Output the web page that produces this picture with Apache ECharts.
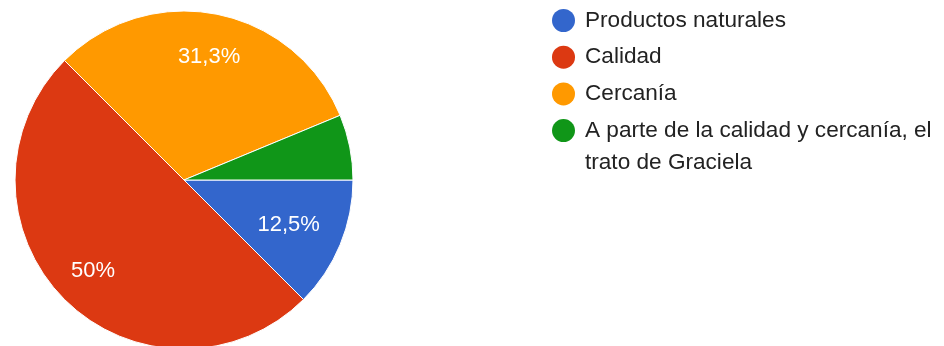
<!DOCTYPE html>
<html>
<head>
<meta charset="utf-8">
<script src="https://cdn.jsdelivr.net/npm/echarts@6/dist/echarts.min.js"></script>
<style>
  html, body { margin: 0; padding: 0; background: #ffffff; }
  #chart { width: 944px; height: 346px; }
</style>
</head>
<body>
<div id="chart"></div>
<script>
// Answers to the survey question (number of responses per option)
const categories = [
  'Productos naturales',
  'Calidad',
  'Cercanía',
  'A parte de la calidad y cercanía, el trato de Graciela'
];
const responses = [2, 8, 5, 1];
const sliceColors = ['#3366cc', '#dc3912', '#ff9900', '#109618'];

// Long legend entries wrap onto a second line
const legendFirstLine = {
  'A parte de la calidad y cercanía, el trato de Graciela': 'A parte de la calidad y cercanía, el'
};
const legendSecondLine = 'trato de Graciela';

const FONT = 'Arial, "Liberation Sans", sans-serif';
const LEGEND_FONT_SIZE = 22.6;
const total = responses.reduce((a, b) => a + b, 0);

function pctText(value) {
  const p = value / total * 100;
  let s = p.toFixed(1);
  if (s.endsWith('.0')) s = s.slice(0, -2);
  return s.replace('.', ',') + '%';
}

const pieData = categories.map((name, i) => ({
  name: name,
  value: responses[i],
  itemStyle: { color: sliceColors[i] }
}));

const chart = echarts.init(document.getElementById('chart'), null, { renderer: 'canvas' });

chart.setOption({
  animation: false,
  backgroundColor: '#ffffff',
  legend: {
    orient: 'vertical',
    left: 552,
    top: 9,
    padding: 0,
    icon: 'circle',
    itemWidth: 23,
    itemHeight: 23,
    itemGap: 13.7,
    selectedMode: false,
    itemStyle: { borderWidth: 0 },
    textStyle: {
      fontFamily: FONT,
      fontSize: LEGEND_FONT_SIZE,
      color: '#222222',
      padding: [0, 0, 0, 5]
    },
    formatter: name => legendFirstLine[name] || name,
    data: categories
  },
  graphic: [{
    type: 'text',
    left: 585,
    top: 151,
    style: {
      text: legendSecondLine,
      font: LEGEND_FONT_SIZE + 'px ' + FONT,
      fill: '#222222'
    }
  }],
  series: [
    {
      type: 'pie',
      center: [184, 180],
      radius: [0, 169],
      startAngle: 0,
      clockwise: true,
      silent: true,
      itemStyle: { borderColor: '#ffffff', borderWidth: 1 },
      label: { show: false },
      labelLine: { show: false },
      data: pieData
    },
    {
      // transparent ring used only to place the percentage labels
      type: 'pie',
      center: [184, 180],
      radius: [82, 169],
      startAngle: 0,
      clockwise: true,
      silent: true,
      itemStyle: { color: 'rgba(0,0,0,0)' },
      label: {
        show: true,
        position: 'inside',
        color: '#ffffff',
        fontFamily: FONT,
        fontSize: 22,
        formatter: p => (p.value / total >= 0.1 ? pctText(p.value) : '')
      },
      labelLayout: p => (p.dataIndex === 0 ? { dx: -14, dy: -4 } : (p.dataIndex === 2 ? { dy: 3 } : {})),
      labelLine: { show: false },
      data: categories.map((name, i) => ({ name: name, value: responses[i] }))
    }
  ]
});
</script>
</body>
</html>
